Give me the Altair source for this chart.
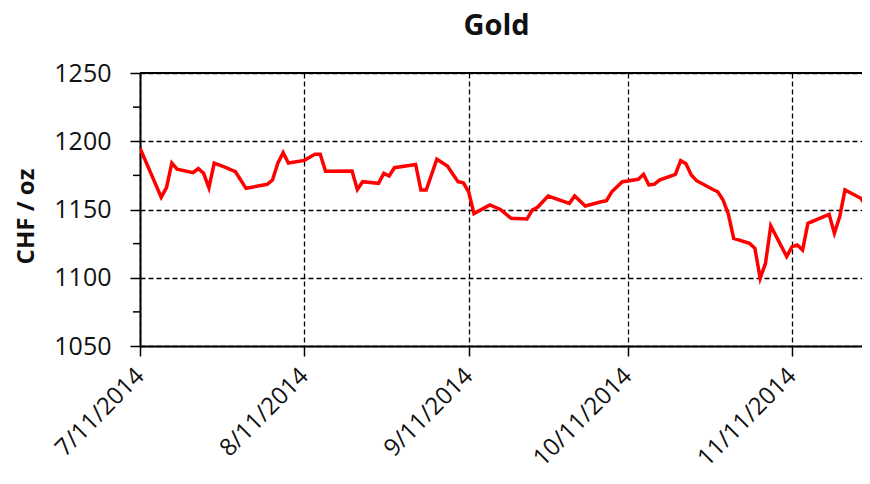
import altair as alt
import pandas as pd

dates = [
    "2014-07-11", "2014-07-15", "2014-07-16", "2014-07-17", "2014-07-18",
    "2014-07-21", "2014-07-22", "2014-07-23", "2014-07-24", "2014-07-25",
    "2014-07-27", "2014-07-29", "2014-07-31", "2014-08-04", "2014-08-05",
    "2014-08-06", "2014-08-07", "2014-08-08", "2014-08-11", "2014-08-13",
    "2014-08-14", "2014-08-15", "2014-08-20", "2014-08-21", "2014-08-22",
    "2014-08-25", "2014-08-26", "2014-08-27", "2014-08-28", "2014-09-01",
    "2014-09-02", "2014-09-03", "2014-09-05", "2014-09-07", "2014-09-08",
    "2014-09-09", "2014-09-10", "2014-09-11", "2014-09-12", "2014-09-15",
    "2014-09-17", "2014-09-19", "2014-09-22", "2014-09-23", "2014-09-24",
    "2014-09-26", "2014-09-30", "2014-10-01", "2014-10-03", "2014-10-06",
    "2014-10-07", "2014-10-08", "2014-10-10", "2014-10-11", "2014-10-13",
    "2014-10-14", "2014-10-15", "2014-10-16", "2014-10-17", "2014-10-20",
    "2014-10-21", "2014-10-22", "2014-10-23", "2014-10-24", "2014-10-27",
    "2014-10-28", "2014-10-29", "2014-10-30", "2014-10-31", "2014-11-03",
    "2014-11-04", "2014-11-05", "2014-11-06", "2014-11-07", "2014-11-10",
    "2014-11-11", "2014-11-12", "2014-11-13", "2014-11-14", "2014-11-18",
    "2014-11-19", "2014-11-20", "2014-11-21", "2014-11-24", "2014-11-25",
]
prices = [
    1195.0, 1159.0, 1166.0, 1184.0, 1179.5,
    1177.0, 1180.0, 1176.5, 1166.0, 1184.0,
    1181.0, 1177.7, 1165.5, 1168.5, 1171.6,
    1184.0, 1191.6, 1184.0, 1186.0, 1190.5,
    1190.5, 1178.0, 1178.2, 1164.7, 1170.4,
    1169.2, 1176.5, 1174.5, 1180.6, 1183.0,
    1164.3, 1164.3, 1186.8, 1181.9, 1176.0,
    1170.4, 1169.6, 1163.0, 1147.0, 1153.3,
    1150.0, 1143.5, 1143.0, 1149.6, 1151.6,
    1159.9, 1154.5, 1159.9, 1152.6, 1155.7,
    1156.5, 1163.0, 1170.4, 1170.9, 1172.1,
    1175.8, 1168.0, 1168.5, 1171.6, 1175.8,
    1185.8, 1183.5, 1175.3, 1171.1, 1164.8,
    1163.0, 1157.0, 1146.5, 1128.9, 1125.2,
    1121.6, 1099.6, 1110.6, 1137.9, 1115.5,
    1122.8, 1124.0, 1120.3, 1139.9, 1146.5,
    1132.6, 1144.7, 1164.3, 1158.2, 1152.0,
]
x_tick_dates = [(2014, 7, 11), (2014, 8, 11), (2014, 9, 11), (2014, 10, 11), (2014, 11, 11)]
y_major = [1050, 1100, 1150, 1200, 1250]
y_minor = [1075, 1125, 1175, 1225]
chart_title = "Gold"
y_title = "CHF / oz"

df = pd.DataFrame({"date": [d + "T00:00:00" for d in dates], "price": prices})
minor_df = pd.DataFrame({"price": y_minor})

FONT = "Open Sans"

x_scale = alt.Scale(domain=[alt.DateTime(year=2014, month=7, date=11),
                            alt.DateTime(year=2014, month=11, date=24, hours=5)])
y_scale = alt.Scale(domain=[1050, 1250], nice=False, zero=False)

y_axis = alt.Axis(values=y_major, format="d", labelFontSize=25, labelFont=FONT,
                  labelColor="#111111", labelPadding=19, tickSize=10,
                  tickColor="#000000", tickWidth=1.5, domainColor="#000000",
                  domainWidth=2, grid=True, gridColor="#000000", gridDash=[5, 3],
                  gridWidth=1.3, titleFont=FONT, titleFontSize=24,
                  titleFontWeight="bold", titleColor="#111111", titleX=-114,
                  titleY=143, titleAngle=-90, titleAlign="center",
                  titleBaseline="middle", labelOverlap=False, labelFlush=False)

line = alt.Chart(df).mark_line(color="#FF0000", strokeWidth=3.5, clip=True).encode(
    x=alt.X("date:T", scale=x_scale, title=None,
            axis=alt.Axis(values=[alt.DateTime(year=y, month=m, date=d) for (y, m, d) in x_tick_dates],
                          format="%-m/%d/%Y", labelAngle=-45, labelAlign="right",
                          labelBaseline="middle", labelPadding=16, labelFontSize=24,
                          labelFont=FONT, labelColor="#111111", tickSize=10,
                          tickColor="#000000", tickWidth=1.5, domainColor="#000000",
                          domainWidth=2, grid=True, gridColor="#000000", gridDash=[5, 3],
                          gridWidth=1.3, labelOverlap=False, labelBound=False,
                          labelFlush=False)),
    y=alt.Y("price:Q", scale=y_scale, title=y_title, axis=y_axis),
)

minor_ticks = alt.Chart(minor_df).mark_rule(color="#000000", strokeWidth=1.5).encode(
    y=alt.Y("price:Q", scale=y_scale, title=y_title, axis=y_axis),
    x=alt.value(-7),
    x2=alt.value(0),
)

top_rule = alt.Chart(minor_df).mark_rule(color="#000000", strokeWidth=2).encode(
    y=alt.value(0),
)

chart = alt.layer(line, minor_ticks, top_rule).properties(
    width=722,
    height=273,
    autosize="none",
    padding={"left": 132, "top": 65, "right": 0, "bottom": 130},
    title=alt.TitleParams(chart_title, font=FONT, fontSize=29, fontWeight="bold",
                          color="#111111", anchor="middle", frame="group",
                          dx=-4.5, offset=20),
).configure_view(stroke=None).configure(background="white")

chart.save("out.html", embed_options={"renderer": "svg", "actions": False})
